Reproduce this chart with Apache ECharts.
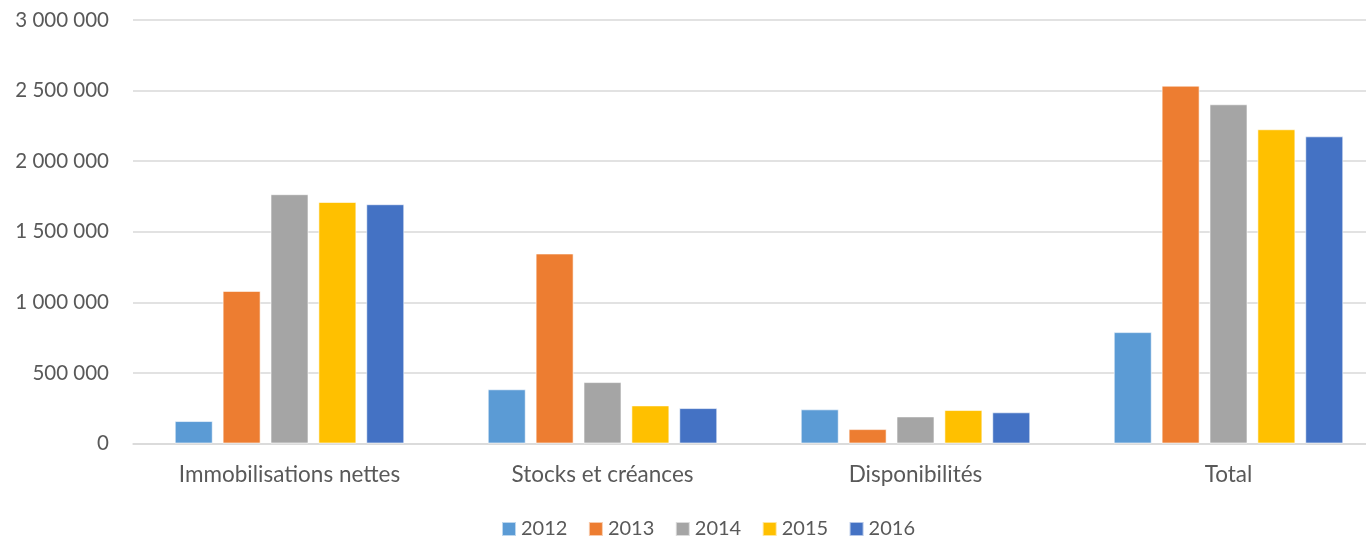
<!DOCTYPE html>
<html>
<head>
<meta charset="utf-8">
<script src="https://cdn.jsdelivr.net/npm/echarts@6/dist/echarts.min.js"></script>
<style>html,body{margin:0;padding:0;background:#fff;overflow:hidden}#c{width:1386px;height:540px}</style>
</head>
<body>
<div id="c"></div>
<script>
const categories = ['Immobilisations nettes', 'Stocks et créances', 'Disponibilités', 'Total'];
const years = ['2012', '2013', '2014', '2015', '2016'];
const s2012 = [159000, 384000, 242000, 789000];
const s2013 = [1081000, 1346000, 102000, 2535000];
const s2014 = [1766000, 435000, 192000, 2403000];
const s2015 = [1711000, 270000, 237000, 2226000];
const s2016 = [1695000, 251000, 221000, 2176000];
const colors = ['#5B9BD5', '#ED7D31', '#A5A5A5', '#FFC000', '#4472C4'];
const seriesData = [s2012, s2013, s2014, s2015, s2016];

const fmt = v => String(v).replace(/\B(?=(\d{3})+(?!\d))/g, ' ');
const font = 'Lato, "Open Sans", sans-serif';

const chart = echarts.init(document.getElementById('c'), null, {renderer: 'canvas'});
chart.setOption({
  animation: false,
  color: colors,
  textStyle: {fontFamily: font},
  grid: {left: 133, top: 20, right: 1, bottom: 96.5, containLabel: false},
  legend: {
    left: 501, top: 519, padding: 0,
    itemWidth: 14, itemHeight: 14, itemGap: 20.5,
    icon: 'rect',
    textStyle: {fontSize: 20, color: '#595959', fontFamily: font},
    data: years
  },
  xAxis: {
    type: 'category',
    data: categories,
    axisLine: {lineStyle: {color: '#D9D9D9', width: 1.5}},
    axisTick: {show: false},
    axisLabel: {fontSize: 22.5, color: '#595959', margin: 20, fontFamily: font}
  },
  yAxis: {
    type: 'value',
    min: 0, max: 3000000, interval: 500000,
    axisLine: {show: false},
    axisTick: {show: false},
    splitLine: {lineStyle: {color: '#D9D9D9', width: 1.5}},
    axisLabel: {fontSize: 20.5, color: '#595959', margin: 24, fontFamily: font, formatter: fmt}
  },
  series: years.map((y, i) => ({
    name: y,
    type: 'bar',
    data: seriesData[i],
    barWidth: 38,
    barGap: '26%',
    itemStyle: {color: colors[i], borderColor: 'rgba(255,255,255,0.6)', borderWidth: 1}
  }))
});
</script>
</body>
</html>
